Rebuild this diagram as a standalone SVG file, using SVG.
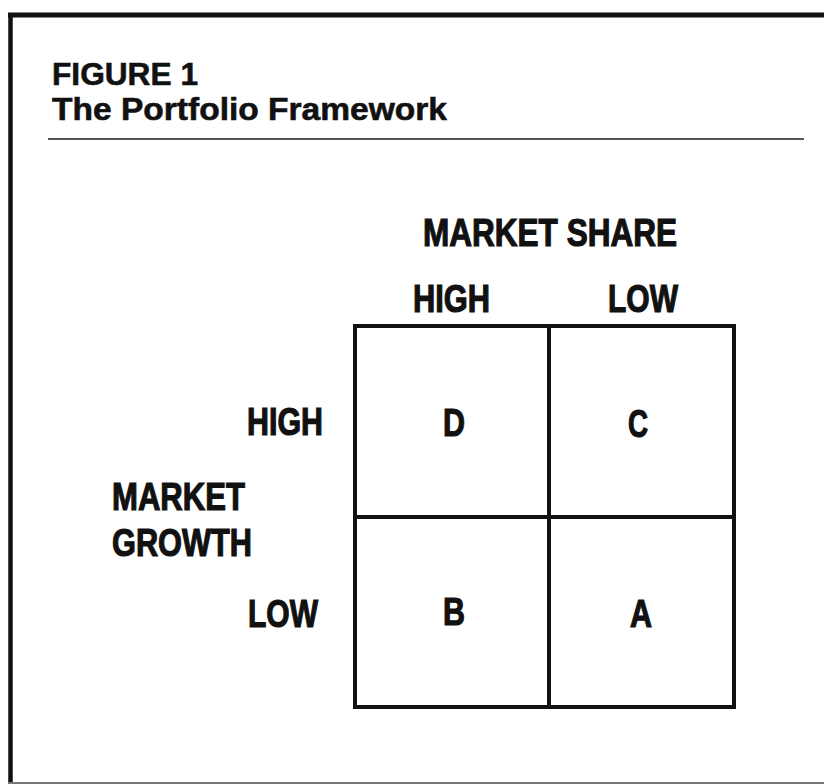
<svg xmlns="http://www.w3.org/2000/svg" width="824" height="784" viewBox="0 0 824 784">
<style>
text{font-family:"Liberation Sans",Arial,sans-serif;font-weight:bold;fill:#111}
.t{font-size:32px;stroke:#111;stroke-width:0.6}
.l{font-size:39px;stroke:#111;stroke-width:1.2}
.g{fill:none;stroke:#111;stroke-width:4}
</style>
<rect width="824" height="784" fill="#fff"/>
<g id="frame">
<line x1="8" y1="15" x2="824" y2="15" stroke="#111" stroke-width="5"/>
<line x1="10.5" y1="13" x2="10.5" y2="784" stroke="#111" stroke-width="4.5"/>
<line x1="8" y1="783" x2="824" y2="783" stroke="#777" stroke-width="2"/>
<line x1="48" y1="139" x2="804" y2="139" stroke="#555" stroke-width="2"/>
</g>
<g id="title">
<text class="t" x="52" y="85" textLength="146" lengthAdjust="spacingAndGlyphs">FIGURE 1</text>
<text class="t" x="52" y="120" textLength="395" lengthAdjust="spacingAndGlyphs">The Portfolio Framework</text>
</g>
<g id="axis-labels">
<text class="l" x="423" y="246" textLength="254" lengthAdjust="spacingAndGlyphs">MARKET SHARE</text>
<text class="l" x="413" y="312" textLength="77" lengthAdjust="spacingAndGlyphs">HIGH</text>
<text class="l" x="608" y="312" textLength="70" lengthAdjust="spacingAndGlyphs">LOW</text>
<text class="l" x="247" y="435" textLength="76" lengthAdjust="spacingAndGlyphs">HIGH</text>
<text class="l" x="112" y="510" textLength="133" lengthAdjust="spacingAndGlyphs">MARKET</text>
<text class="l" x="112" y="556" textLength="140" lengthAdjust="spacingAndGlyphs">GROWTH</text>
<text class="l" x="248" y="627" textLength="70" lengthAdjust="spacingAndGlyphs">LOW</text>
</g>
<g id="connectors">
<rect class="g" x="355" y="326" width="379" height="381"/>
<line class="g" x1="549" y1="326" x2="549" y2="707"/>
<line class="g" x1="355" y1="517" x2="734" y2="517"/>
</g>
<g id="quadrant-D"><text class="l" x="443" y="436" textLength="22" lengthAdjust="spacingAndGlyphs">D</text></g>
<g id="quadrant-C"><text class="l" x="628" y="437" textLength="20" lengthAdjust="spacingAndGlyphs">C</text></g>
<g id="quadrant-B"><text class="l" x="443" y="625" textLength="22" lengthAdjust="spacingAndGlyphs">B</text></g>
<g id="quadrant-A"><text class="l" x="630" y="627" textLength="22" lengthAdjust="spacingAndGlyphs">A</text></g>
</svg>
